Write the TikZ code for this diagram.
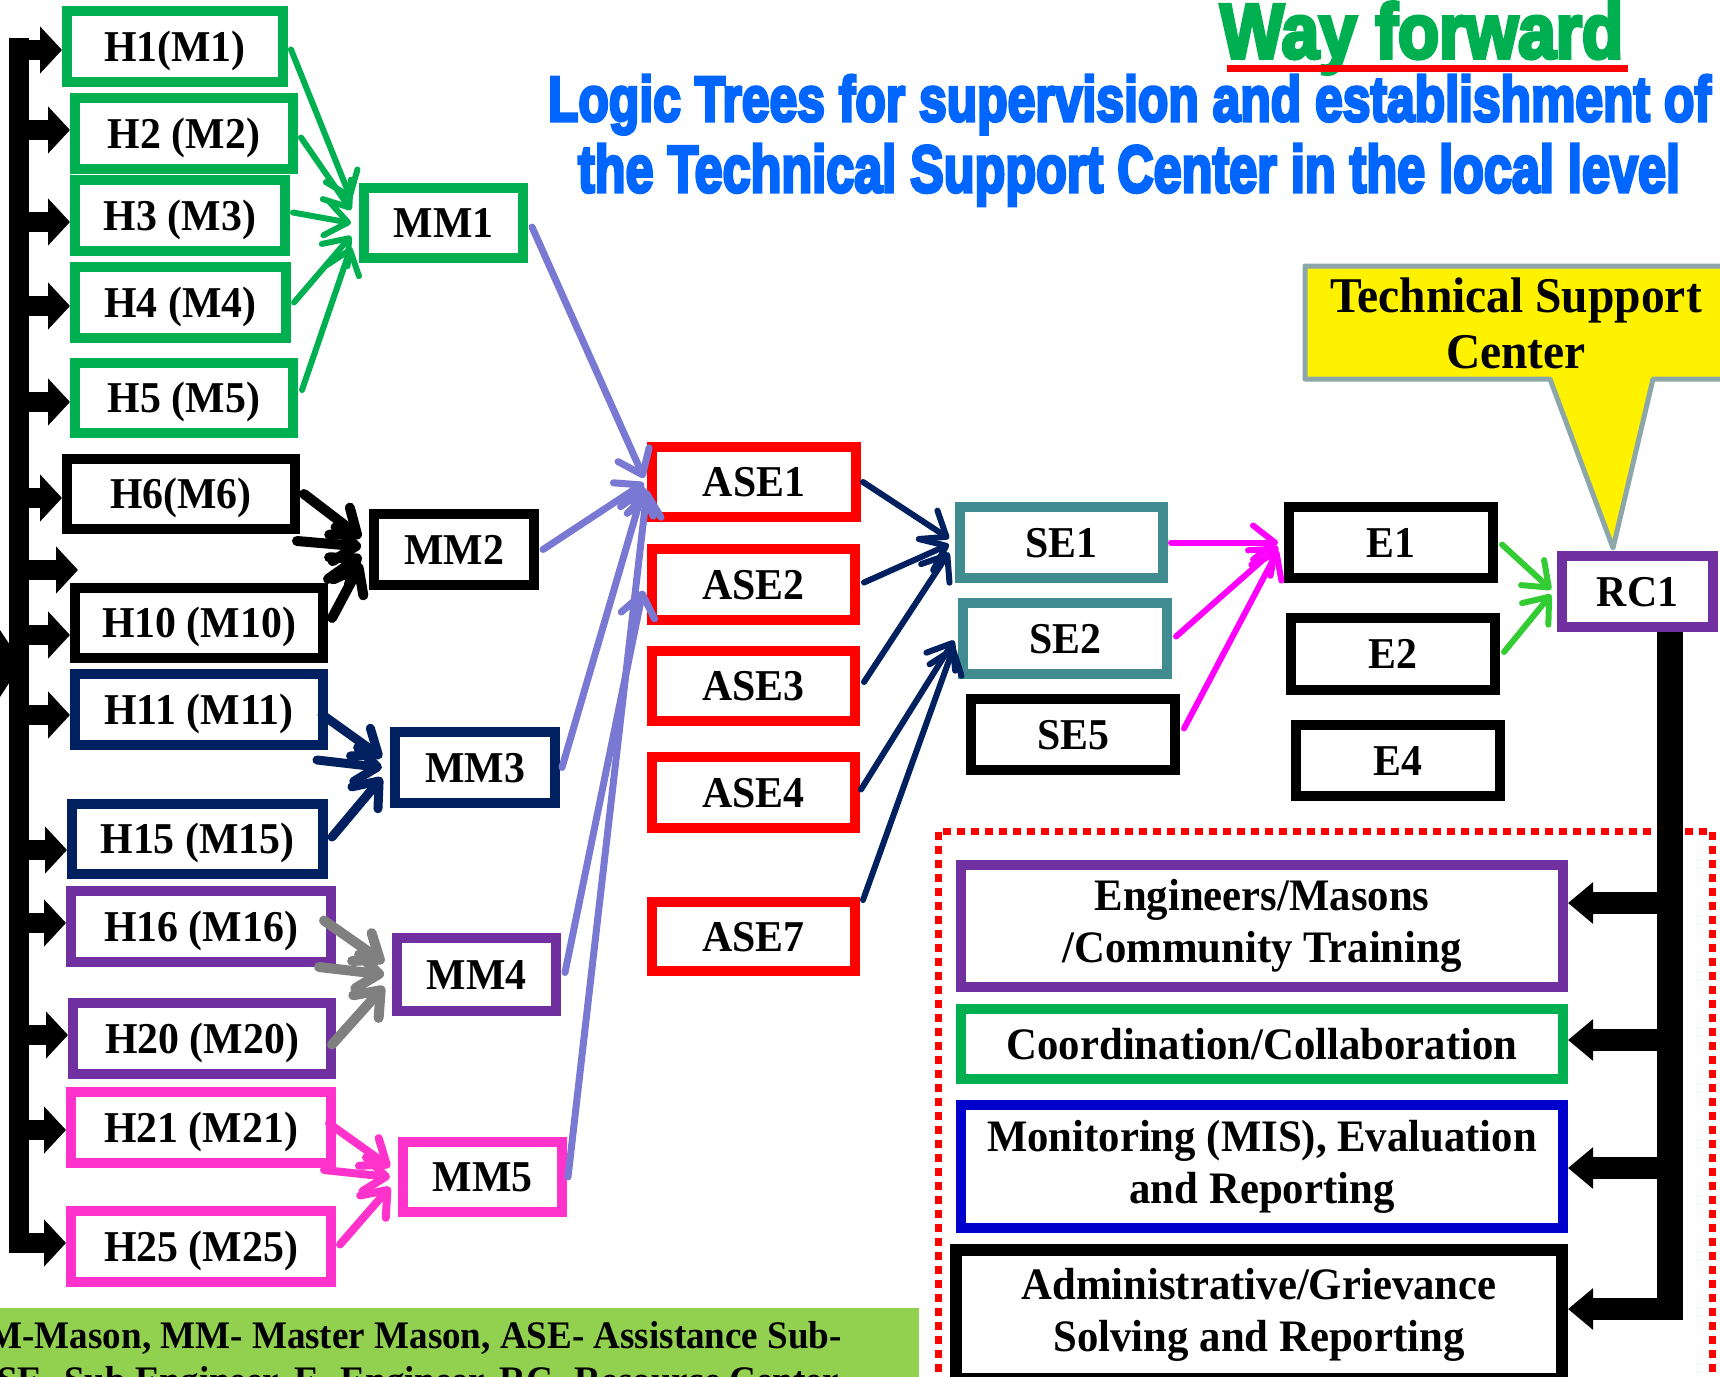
\documentclass[tikz,border=0pt]{standalone}
\usepackage{graphicx}
\usepackage{fontspec}
\setmainfont{Liberation Serif}[FakeStretch=0.95]
\newfontfamily\titlefont{Liberation Sans}[FakeBold=5]
\usetikzlibrary{arrows.meta,calc}
\definecolor{hgreen}{RGB}{0,176,80}
\definecolor{hnavy}{RGB}{0,32,96}
\definecolor{hpurple}{RGB}{112,48,160}
\definecolor{hpink}{RGB}{255,51,204}
\definecolor{hteal}{RGB}{64,140,145}
\definecolor{hblue}{RGB}{0,0,204}
\definecolor{lav}{RGB}{121,121,212}
\definecolor{mag}{RGB}{255,0,255}
\definecolor{lgreen}{RGB}{51,204,51}
\definecolor{callgray}{RGB}{140,166,170}
\definecolor{tblue}{RGB}{0,102,255}
\definecolor{footgreen}{RGB}{146,208,80}
\definecolor{hgray}{RGB}{128,128,128}
\begin{document}
\begin{tikzpicture}[x=1pt,y=-1pt,
  hbox/.style={draw=#1, line width=10pt, inner sep=0pt, minimum height=71pt,
    text height=29pt, text depth=0pt, font=\fontsize{44}{50}\selectfont\bfseries},
  bigbox/.style={draw=#1, line width=10pt, inner sep=0pt, minimum width=602pt,
    align=center, font=\fontsize{45}{52}\selectfont\bfseries},
  conn/.style={line width=#1, line cap=round,
    -{Straight Barb[length=22pt,width=34pt,round]}},
  bigarrL/.style={line width=20pt, -{Triangle[length=22pt,width=46pt]}},
  bigarrR/.style={line width=22pt, -{Triangle[length=25pt,width=40pt]}},
  ttl/.style={inner sep=0pt, text=tblue}]
\useasboundingbox (0,0) rectangle (1720,1376);
\clip (0,0) rectangle (1720,1376);

% ---------- titles ----------
\node[anchor=base west, inner sep=0pt, text=hgreen] (wf) at (1220,58)
  {\resizebox{403pt}{56pt}{\titlefont\bfseries Way forward}};
\draw[red, line width=7pt] ($(wf.base west)+(7,10)$) -- ($(wf.base east)+(4,10)$);
\node[ttl, anchor=base] (t1) at (1129.5,121)
  {\resizebox{1163pt}{46pt}{\titlefont\bfseries Logic Trees for supervision and establishment of}};
\node[ttl, anchor=base] (t2) at (1129,192)
  {\resizebox{1102pt}{48pt}{\titlefont\bfseries the Technical Support Center in the local level}};

% ---------- footer ----------
\fill[footgreen] (0,1308) rectangle (919,1400);
\node[anchor=base east, inner sep=0pt, font=\fontsize{39}{45}\selectfont\bfseries] (f1)
  at (842,1348) {M-Mason, MM- Master Mason, ASE- Assistance Sub-};
\node[anchor=base west, inner sep=0pt, font=\fontsize{39}{45}\selectfont\bfseries] (f2)
  at (-3,1393) {SE- Sub Engineer, E- Engineer, RC- Resource Center};

% ---------- dotted frame ----------
\draw[red, line width=7pt, dash pattern=on 8pt off 6pt] (938,1400) -- (938,831) -- (1712,831) -- (1712,1400);

% ---------- H boxes ----------
\node[hbox=hgreen, minimum width=216pt] (H1) at (175,46.5) {H1(M1)};
\node[hbox=hgreen, minimum width=218pt] (H2) at (184,133.5) {H2 (M2)};
\node[hbox=hgreen, minimum width=210pt] (H3) at (180,215.5) {H3 (M3)};
\node[hbox=hgreen, minimum width=211pt] (H4) at (180.5,302.5) {H4 (M4)};
\node[hbox=hgreen, minimum width=218pt, minimum height=70pt] (H5) at (184,398) {H5 (M5)};
\node[hbox=black, minimum width=228pt, minimum height=70pt] (H6) at (181,494) {H6(M6)};
\node[hbox=black, minimum width=248pt, minimum height=70pt] (H10) at (199,623) {H10 (M10)};
\node[hbox=hnavy, minimum width=248pt] (H11) at (199,709.5) {H11 (M11)};
\node[hbox=hnavy, minimum width=251pt, minimum height=70pt] (H15) at (197.5,839) {H15 (M15)};
\node[hbox=hpurple, minimum width=260pt] (H16) at (201,926.5) {H16 (M16)};
\node[hbox=hpurple, minimum width=258pt] (H20) at (202,1038.5) {H20 (M20)};
\node[hbox=hpink, minimum width=260pt] (H21) at (201,1127.5) {H21 (M21)};
\node[hbox=hpink, minimum width=260pt] (H25) at (201,1246.5) {H25 (M25)};

% ---------- MM boxes ----------
\node[hbox=hgreen, minimum width=159pt, minimum height=70pt] (MM1) at (443.5,223) {MM1};
\node[hbox=black, minimum width=160pt] (MM2) at (454,549.5) {MM2};
\node[hbox=hnavy, minimum width=160pt] (MM3) at (475,767.5) {MM3};
\node[hbox=hpurple, minimum width=159pt, minimum height=73pt] (MM4) at (476.5,974.5) {MM4};
\node[hbox=hpink, minimum width=159pt, minimum height=70pt] (MM5) at (482.5,1177) {MM5};

% ---------- ASE boxes ----------
\node[hbox=red, minimum width=204pt, minimum height=70pt] (ASE1) at (754,482) {ASE1};
\node[hbox=red, minimum width=203pt] (ASE2) at (753.5,584.5) {ASE2};
\node[hbox=red, minimum width=203pt, minimum height=70pt] (ASE3) at (753.5,686) {ASE3};
\node[hbox=red, minimum width=203pt] (ASE4) at (753.5,792.5) {ASE4};
\node[hbox=red, minimum width=203pt, minimum height=69pt] (ASE7) at (753.5,936.5) {ASE7};

% ---------- SE / E / RC boxes ----------
\node[hbox=hteal, minimum width=203pt] (SE1) at (1061.5,542.5) {SE1};
\node[hbox=hteal, minimum width=204pt] (SE2) at (1065,638.5) {SE2};
\node[hbox=black, minimum width=204pt] (SE5) at (1073,734.5) {SE5};
\node[hbox=black, minimum width=204pt] (E1) at (1391,542.5) {E1};
\node[hbox=black, minimum width=204pt, minimum height=72pt] (E2) at (1393,654) {E2};
\node[hbox=black, minimum width=204pt] (E4) at (1398,760.5) {E4};
\node[hbox=hpurple, minimum width=151pt] (RC1) at (1637.5,591.5) {RC1};

% ---------- activity boxes ----------
\node[bigbox=hpurple, minimum height=122pt] (Eng) at (1262,926) {Engineers/Masons\\/Community Training};
\node[bigbox=hgreen, minimum height=70pt] (Coo) at (1262,1044) {Coordination/Collaboration};
\node[bigbox=hblue, minimum height=123pt] (Mon) at (1262,1166.5) {Monitoring (MIS), Evaluation\\and Reporting};
\node[bigbox=black, line width=12pt, minimum width=606pt, minimum height=129pt] (Adm) at (1259,1314.5) {Administrative/Grievance\\Solving and Reporting};

% ---------- free ends ----------
\coordinate (s2) at (297,541);
\coordinate (s3) at (317,760);
\coordinate (s4) at (319,967);
\coordinate (s5) at (324,1170);

% ---------- H -> MM ----------
\begin{scope}[hgreen]
\draw[conn=6pt] ($(H1.east)+(3,3)$) -- ($(MM1.west)+(-8,-24)$);
\draw[conn=6pt] ($(H2.east)+(3,4)$) -- ($(MM1.west)+(-8,-13)$);
\draw[conn=6pt] ($(H3.east)+(3,-3)$) -- ($(MM1.west)+(-8,0)$);
\draw[conn=6pt] ($(H4.east)+(3,0)$) -- ($(MM1.west)+(-8,13)$);
\draw[conn=6pt] ($(H5.east)+(4,-8)$) -- ($(MM1.west)+(-8,24)$);
\end{scope}
\begin{scope}[black]
\draw[conn=10pt] ($(H6.east)+(4,0)$) -- ($(MM2.west)+(-8,-12)$);
\draw[conn=10pt] (s2) -- ($(MM2.west)+(-8,-3)$);
\draw[conn=10pt] ($(H10.north east)+(0,-4)$) -- ($(MM2.west)+(-8,6)$);
\draw[conn=10pt] ($(H10.east)+(4,-5)$) -- ($(MM2.west)+(-8,14)$);
\end{scope}
\begin{scope}[hnavy]
\draw[conn=9pt] ($(H11.east)+(-6,5)$) -- ($(MM3.west)+(-8,-10)$);
\draw[conn=9pt] (s3) -- ($(MM3.west)+(-8,0)$);
\draw[conn=9pt] ($(H15.east)+(4,-2)$) -- ($(MM3.west)+(-8,10)$);
\end{scope}
\begin{scope}[hgray]
\draw[conn=10pt] ($(H16.east)+(-12,-6)$) -- ($(MM4.west)+(-8,-12)$);
\draw[conn=10pt] (s4) -- ($(MM4.west)+(-8,0)$);
\draw[conn=10pt] ($(H20.east)+(-4,6)$) -- ($(MM4.west)+(-8,12)$);
\end{scope}
\begin{scope}[hpink]
\draw[conn=8pt] ($(H21.east)+(-7,-4)$) -- ($(MM5.west)+(-8,-10)$);
\draw[conn=8pt] (s5) -- ($(MM5.west)+(-8,0)$);
\draw[conn=8pt] ($(H25.east)+(4,-2)$) -- ($(MM5.west)+(-8,10)$);
\end{scope}

% ---------- MM -> ASE ----------
\begin{scope}[lav]
\draw[conn=7pt] ($(MM1.east)+(4,4)$) -- ($(ASE1.west)+(-3,-4)$);
\draw[conn=7pt] ($(MM2.east)+(4,0)$) -- ($(ASE1.west)+(-3,1)$);
\draw[conn=7pt] ($(MM3.east)+(2,0)$) -- ($(ASE1.west)+(-3,5)$);
\draw[conn=7pt] ($(MM5.east)+(1,0)$) -- ($(ASE1.west)+(0,8)$);
\draw[conn=7pt] ($(MM4.east)+(4,-2)$) -- ($(ASE2.west)+(-4,6)$);
\end{scope}

% ---------- ASE -> SE ----------
\begin{scope}[hnavy]
\draw[conn=6pt] ($(ASE1.east)+(2,0)$) -- ($(SE1.west)+(-6,-4)$);
\draw[conn=6pt] ($(ASE2.east)+(4,-2)$) -- ($(SE1.west)+(-6,2)$);
\draw[conn=6pt] ($(ASE3.east)+(4,-4)$) -- ($(SE1.west)+(-6,10)$);
\draw[conn=6pt] ($(ASE4.east)+(1,-3)$) -- ($(SE2.west)+(-4,2)$);
\draw[conn=6pt] ($(ASE7.north east)+(3,3)$) -- ($(SE2.west)+(-4,8)$);
\end{scope}

% ---------- SE -> E ----------
\begin{scope}[mag]
\draw[conn=6pt] ($(SE1.east)+(3,0)$) -- ($(E1.west)+(-6,0)$);
\draw[conn=6pt] ($(SE2.east)+(4,-2)$) -- ($(E1.west)+(-6,4)$);
\draw[conn=6pt] ($(SE5.east)+(4,-6)$) -- ($(E1.west)+(-6,8)$);
\end{scope}

% ---------- E -> RC ----------
\begin{scope}[lgreen]
\draw[conn=6pt] ($(E1.east)+(4,2)$) -- ($(RC1.west)+(-6,-2)$);
\draw[conn=6pt] ($(E2.east)+(4,-2)$) -- ($(RC1.west)+(-6,3)$);
\end{scope}

% ---------- left distribution bar ----------
\fill (0,630) -- (22,663) -- (0,697) -- cycle;
\draw[line width=20pt] (19,38) -- (19,1253);
\coordinate (b1) at (19,50);   \draw[bigarrL] (b1) -- (H1.west |- b1);
\coordinate (b2) at (19,130);  \draw[bigarrL] (b2) -- (H2.west |- b2);
\coordinate (b3) at (19,222);  \draw[bigarrL] (b3) -- (H3.west |- b3);
\coordinate (b4) at (19,306);  \draw[bigarrL] (b4) -- (H4.west |- b4);
\coordinate (b5) at (19,402);  \draw[bigarrL] (b5) -- (H5.west |- b5);
\coordinate (b6) at (19,498);  \draw[bigarrL] (b6) -- (H6.west |- b6);
\coordinate (b7) at (19,570);  \coordinate (e7) at (78,570); \draw[bigarrL] (b7) -- (e7);
\coordinate (b10) at (19,635); \draw[bigarrL] (b10) -- (H10.west |- b10);
\coordinate (b11) at (19,715); \draw[bigarrL] (b11) -- (H11.west |- b11);
\coordinate (b15) at (19,850); \draw[bigarrL] (b15) -- (H15.west |- b15);
\coordinate (b16) at (19,923); \draw[bigarrL] (b16) -- (H16.west |- b16);
\coordinate (b20) at (19,1035); \draw[bigarrL] (b20) -- (H20.west |- b20);
\coordinate (b21) at (19,1130); \draw[bigarrL] (b21) -- (H21.west |- b21);
\coordinate (b25) at (19,1243); \draw[bigarrL] (b25) -- (H25.west |- b25);

% ---------- right distribution bar ----------
\draw[line width=26pt, line join=round] (RC1.south -| 1670,0) -- (1670,1320);
\coordinate (r1) at (1670,903);  \draw[bigarrR] (r1) -- (Eng.east |- r1);
\coordinate (r2) at (1670,1040); \draw[bigarrR] (r2) -- (Coo.east |- r2);
\coordinate (r3) at (1670,1168); \draw[bigarrR] (r3) -- (Mon.east |- r3);
\coordinate (r4) at (1683,1309); \draw[bigarrR] (r4) -- (Adm.east |- r4);

% ---------- callout ----------
\filldraw[fill=yellow, draw=callgray, line width=5pt, line join=round]
  (1305,266) -- (1735,266) -- (1735,379) -- (1653,379) -- (1613,548) -- (1550,379) -- (1305,379) -- cycle;
\node[align=center, inner sep=0pt, font=\fontsize{50}{56}\selectfont\bfseries] (tsc)
  at (1516,323) {Technical Support\\Center};
\end{tikzpicture}
\end{document}
